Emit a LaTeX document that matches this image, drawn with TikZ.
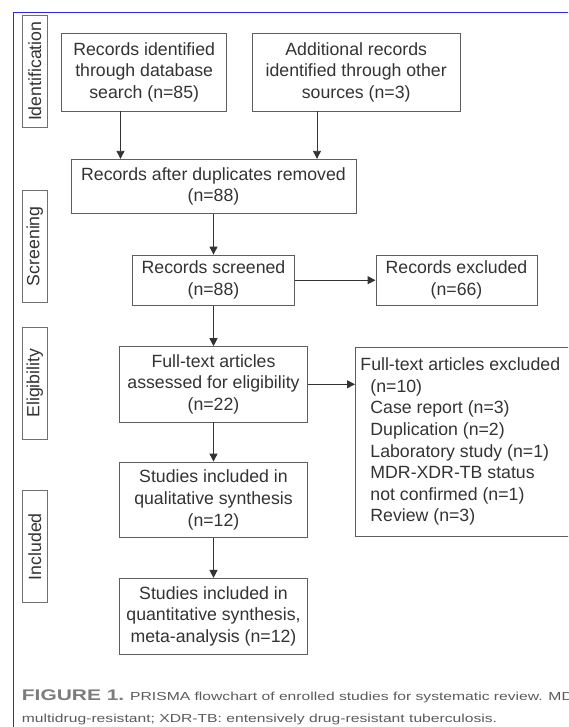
\documentclass[tikz,border=0pt]{standalone}
\usepackage{fontspec}
\setmainfont{Liberation Sans}
\newfontfamily\capfont[FakeStretch=1.35]{Liberation Sans}
\newfontfamily\figfont[FakeStretch=1.36]{Liberation Sans}
\usepackage{tikz}
\usetikzlibrary{arrows.meta}
\definecolor{FrameBlue}{HTML}{2A2AE8}
\definecolor{BoxLine}{HTML}{5E5E5E}
\definecolor{StageLine}{HTML}{707070}
\definecolor{TextDark}{HTML}{333333}
\definecolor{CapGray}{HTML}{7C7C7C}
\definecolor{CapText}{HTML}{5A5A5A}

\begin{document}
\begin{tikzpicture}[x=1pt, y=-1pt,
      bx/.style={draw=BoxLine, text=TextDark, line width=0.9pt,
                 font=\fontsize{17.7}{21.6}\selectfont,
                 align=center, inner sep=0pt},
      stage/.style={draw=StageLine, text=TextDark, line width=0.9pt,
                 font=\fontsize{17.7}{21.6}\selectfont, rotate=90,
                 minimum width=112pt, minimum height=25pt, inner sep=0pt},
      ar/.style={-{Triangle[length=8pt,width=8pt]}, draw=TextDark, line width=0.9pt},
      captxt/.style={anchor=base west, inner sep=0pt},
    ]
      \useasboundingbox (0,0) rectangle (568,727);
      \clip (0,0) rectangle (568,727);
      \draw[FrameBlue, line width=1pt] (570,12.5) -- (13.3,12.5) -- (13.3,729);
      % stages
      \node[stage] (idf)  at (34.8, 71.3) {Identification};
      \node[stage] (scrn) at (34.8,246.2) {Screening};
      \node[stage] (elig) at (34.8,383.2) {Eligibility};
      \node[stage] (incl) at (34.8,546.7) {Included};
      % boxes
      \node[bx, minimum width=165pt, minimum height=77.7pt] (db) at (144.2,72.2)
        {Records identified\\through database\\search (n=85)};
      \node[bx, minimum width=207.5pt, minimum height=77.7pt] (other) at (356.2,72.2)
        {Additional records\\identified through other\\sources (n=3)};
      \node[bx, minimum width=285pt, minimum height=54pt] (dup) at (213.5,186.3)
        {Records after duplicates removed\\(n=88)};
      \node[bx, minimum width=161.5pt, minimum height=50.3pt] (scr) at (213.5,280.2)
        {Records screened\\(n=88)};
      \node[bx, minimum width=161pt, minimum height=50.3pt] (exc) at (456.5,280.2)
        {Records excluded\\(n=66)};
      \node[bx, minimum width=187.5pt, minimum height=75.3pt] (full) at (213.5,384.3)
        {Full-text articles\\assessed for eligibility\\(n=22)};
      \node[bx, align=left, inner xsep=5pt, minimum height=189.3pt,
            anchor=north west] (fexc) at (355,346.7)
        {Full-text articles excluded\hspace*{40pt}\\
         \hspace*{10pt}(n=10)\\
         \hspace*{10pt}Case report (n=3)\\
         \hspace*{10pt}Duplication (n=2)\\
         \hspace*{10pt}Laboratory study (n=1)\\
         \hspace*{10pt}MDR-XDR-TB status\\
         \hspace*{10pt}not confirmed (n=1)\\
         \hspace*{10pt}Review (n=3)};
      \node[bx, minimum width=187.5pt, minimum height=75.7pt] (qual) at (213.5,499.9)
        {Studies included in\\qualitative synthesis\\(n=12)};
      \node[bx, minimum width=187.5pt, minimum height=75.7pt] (quant) at (213.5,616.2)
        {Studies included in\\quantitative synthesis,\\meta-analysis (n=12)};
      % arrows
      \draw[ar] ([xshift=-23.7pt]db.south) -- ([xshift=-23.7pt]db.south |- dup.north);
      \draw[ar] ([xshift=-39.2pt]other.south) -- ([xshift=-39.2pt]other.south |- dup.north);
      \draw[ar] (dup) -- (scr);
      \draw[ar] (scr) -- (exc);
      \draw[ar] (scr) -- (full);
      \draw[ar] (full) -- (fexc.west |- full.east);
      \draw[ar] (full) -- (qual);
      \draw[ar] (qual) -- (quant);
      % caption
      \node[captxt, text=CapGray, font=\figfont\bfseries\fontsize{15.4}{16}\selectfont] (fig)
        at (21.7,700.3) {FIGURE 1.};
      \node[captxt, text=CapText, font=\capfont\fontsize{11.6}{13}\selectfont] (cap1)
        at (130,700.3) {PRISMA flowchart of enrolled studies for systematic review. MDR};
      \node[captxt, text=CapText, font=\capfont\fontsize{11.6}{13}\selectfont] (cap2)
        at (21.7,722) {multidrug-resistant; XDR-TB: entensively drug-resistant tuberculosis.};
    \end{tikzpicture}
\end{document}
